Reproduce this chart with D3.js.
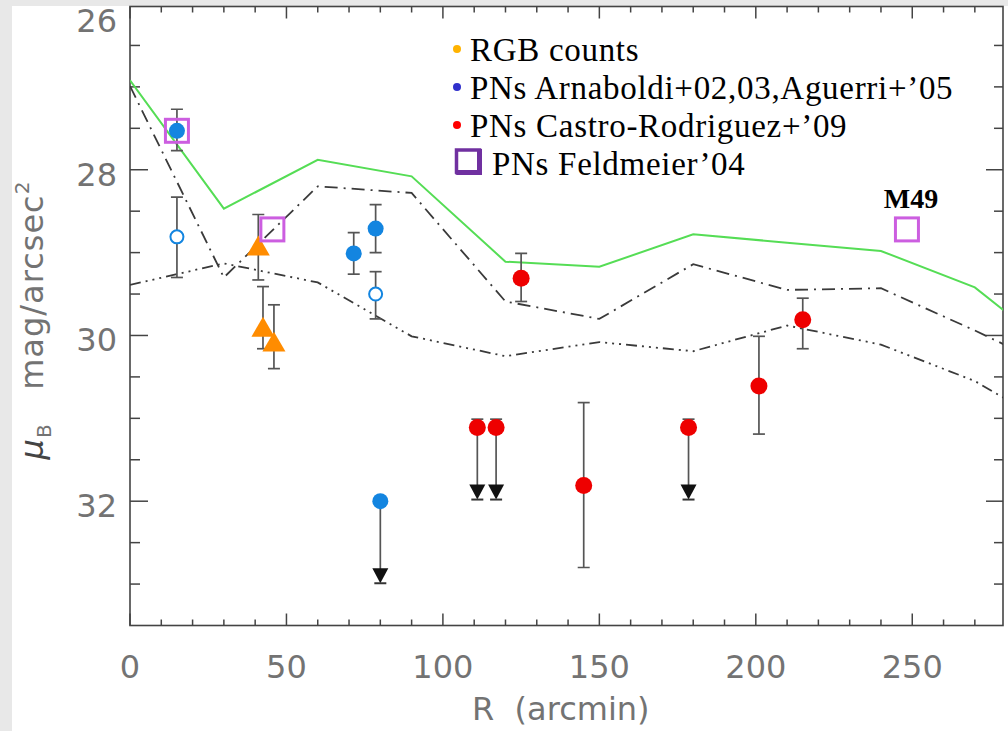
<!DOCTYPE html>
<meta charset="utf-8">
<script src="https://d3js.org/d3.v7.min.js"></script>
<style>
  body { margin: 0; background: #e8e8e8; }
  svg { display: block; }
</style>
<div id="my_dataviz"></div>
<script>

// model profiles (sampled every 30 arcmin)
var modelR     = [0, 30, 60, 90, 120, 150, 180, 210, 240, 270, 280];
var greenMu    = [26.92, 28.47, 27.88, 28.08, 29.11, 29.17, 28.78, 28.88, 28.98, 29.42, 29.72];
var dashDotMu  = [26.99, 29.30, 28.20, 28.28, 29.59, 29.80, 29.14, 29.45, 29.43, 29.94, 30.12];
var dashDot3Mu = [29.39, 29.13, 29.36, 30.01, 30.25, 30.08, 30.19, 29.88, 30.11, 30.55, 30.77];

// PNs Arnaboldi+02,03, Aguerri+'05 (filled)
var blueR  = [15, 71.5, 78.5];
var blueMu = [27.53, 29.01, 28.71];
var blueLo = [27.27, 28.76, 28.42];
var blueHi = [27.77, 29.26, 29.00];
// open symbols
var blueOpenR  = [15, 78.5];
var blueOpenMu = [28.81, 29.50];
var blueOpenLo = [28.33, 29.23];
var blueOpenHi = [29.30, 29.80];
// upper limit
var blueLimR   = [80];
var blueLimMu  = [32.0];
var blueLimEnd = [32.99];

// RGB counts
var rgbR  = [41, 42.5, 46];
var rgbMu = [28.93, 29.91, 30.09];
var rgbLo = [28.54, 29.41, 29.63];
var rgbHi = [29.33, 30.16, 30.40];

// PNs Castro-Rodriguez+'09
var redR  = [125, 145, 201, 215];
var redMu = [29.31, 31.81, 30.61, 29.81];
var redLo = [29.01, 30.81, 30.01, 29.55];
var redHi = [29.59, 32.80, 31.19, 30.16];
// upper limits
var redLimR   = [111, 117, 178.5];
var redLimMu  = [31.11, 31.11, 31.11];
var redLimTop = [31.01, 31.01, 31.01];
var redLimEnd = [31.98, 31.98, 31.98];

// PNs Feldmeier'04
var sqR  = [15, 45.5, 248.3];
var sqMu = [27.53, 28.72, 28.72];

var xMajor = [0, 50, 100, 150, 200, 250];
var yMajor = [26, 28, 30, 32];

var legendLabels = ["RGB counts", "PNs Arnaboldi+02,03,Aguerri+\u201905", "PNs Castro-Rodriguez+\u201909", "PNs Feldmeier\u201904"];
var legendColors = ["#ffb300", "#3030cc", "#ff0000", "#7030a0"];

var W = 1008, H = 731;

var svg = d3.select("#my_dataviz")
  .append("svg")
    .attr("width", W)
    .attr("height", H);

// white panel
svg.append("rect")
  .attr("x", 12).attr("y", 6)
  .attr("width", W - 12).attr("height", H - 6)
  .attr("fill", "white");

var x = d3.scaleLinear().domain([0, 279]).range([130, 1003]);
var y = d3.scaleLinear().domain([26.03, 33.5]).range([6.5, 625.5]);

var x0 = x.range()[0], x1 = x.range()[1], y0 = y.range()[0], y1 = y.range()[1];

svg.append("clipPath").attr("id", "clip")
  .append("rect")
    .attr("x", x0).attr("y", y0)
    .attr("width", x1 - x0).attr("height", y1 - y0);

var axisColor = "#444";

// ---- frame and ticks ----
var minorX = d3.range(0, 280, 10);
var minorY = d3.range(26.5, 33.5, 0.5);

var ticks = svg.append("g").attr("stroke", axisColor).attr("stroke-width", 1.5);

minorX.forEach(function(v){
  var big = v % 50 === 0;
  var len = big ? 12 : 6;
  ticks.append("line").attr("x1", x(v)).attr("x2", x(v)).attr("y1", y1).attr("y2", y1 - len);
  ticks.append("line").attr("x1", x(v)).attr("x2", x(v)).attr("y1", y0).attr("y2", y0 + len);
});
minorY.forEach(function(v){
  var big = Math.abs(v % 2) < 1e-9;
  ticks.append("line").attr("x1", x0).attr("x2", x0 + (big ? 18 : 10)).attr("y1", y(v)).attr("y2", y(v));
  ticks.append("line").attr("x1", x1).attr("x2", x1 - (big ? 17 : 9)).attr("y1", y(v)).attr("y2", y(v));
});

svg.append("rect")
  .attr("x", x0).attr("y", y0)
  .attr("width", x1 - x0).attr("height", y1 - y0)
  .attr("fill", "none")
  .attr("stroke", axisColor)
  .attr("stroke-width", 1.6);

// tick labels
var labFont = "'DejaVu Sans', sans-serif";
var labCol = "#737373";
svg.selectAll("xlab")
  .data(xMajor)
  .enter()
  .append("text")
    .attr("x", function(d){ return x(d) })
    .attr("y", 678)
    .attr("text-anchor", "middle")
    .style("font-family", labFont)
    .style("font-size", "32px")
    .attr("fill", labCol)
    .text(function(d){ return d });

svg.selectAll("ylab")
  .data(yMajor)
  .enter()
  .append("text")
    .attr("x", 117)
    .attr("y", function(d){ return Math.max(y(d) + 16, 32) })
    .attr("text-anchor", "end")
    .style("font-family", labFont)
    .style("font-size", "32px")
    .attr("fill", labCol)
    .text(function(d){ return d });

// axis titles
svg.append("text")
  .attr("x", 472)
  .attr("y", 720)
  .style("font-family", labFont)
  .style("font-size", "32px")
  .style("white-space", "pre")
  .attr("fill", labCol)
  .text("R  (arcmin)");

var yt = svg.append("text")
  .attr("transform", "translate(43,320) rotate(-90)")
  .attr("text-anchor", "middle")
  .style("font-family", labFont)
  .style("font-size", "32px")
  .style("letter-spacing", "1px")
  .style("white-space", "pre")
  .attr("fill", labCol);
yt.append("tspan").style("font-style", "italic").attr("fill", "#444").text("\u03bc");
yt.append("tspan").attr("dy", 8).style("font-size", "20px").text("B");
yt.append("tspan").attr("dy", -8).text("   mag/arcsec");
yt.append("tspan").attr("dy", -14).style("font-size", "20px").text("2");

// ---- model lines ----
var line = d3.line()
  .x(function(d){ return x(d[0]) })
  .y(function(d){ return y(d[1]) });

var plot = svg.append("g").attr("clip-path", "url(#clip)");

plot.append("path")
  .attr("d", line(d3.zip(modelR, dashDot3Mu)))
  .attr("fill", "none")
  .attr("stroke", "#3a3a3a")
  .attr("stroke-width", 1.8)
  .attr("stroke-dasharray", "11,5,2,5,2,5,2,5");

plot.append("path")
  .attr("d", line(d3.zip(modelR, dashDotMu)))
  .attr("fill", "none")
  .attr("stroke", "#3a3a3a")
  .attr("stroke-width", 1.8)
  .attr("stroke-dasharray", "13,6,2,6");

plot.append("path")
  .attr("d", line(d3.zip(modelR, greenMu)))
  .attr("fill", "none")
  .attr("stroke", "#55dd55")
  .attr("stroke-width", 2);

// ---- error bars ----
function errBars(R, lo, hi) {
  var g = plot.append("g").attr("stroke", "#555").attr("stroke-width", 1.7);
  R.forEach(function(r, i){
    g.append("line").attr("x1", x(r)).attr("x2", x(r)).attr("y1", y(lo[i])).attr("y2", y(hi[i]));
    g.append("line").attr("x1", x(r) - 6).attr("x2", x(r) + 6).attr("y1", y(lo[i])).attr("y2", y(lo[i]));
    g.append("line").attr("x1", x(r) - 6).attr("x2", x(r) + 6).attr("y1", y(hi[i])).attr("y2", y(hi[i]));
  });
}
function limits(R, top, end, cap) {
  var g = plot.append("g");
  R.forEach(function(r, i){
    g.append("line")
      .attr("x1", x(r)).attr("x2", x(r))
      .attr("y1", y(top[i])).attr("y2", y(end[i]) - 6)
      .attr("stroke", "#555").attr("stroke-width", 1.7);
    if (cap) {
      g.append("line").attr("x1", x(r) - 6).attr("x2", x(r) + 6)
        .attr("y1", y(top[i])).attr("y2", y(top[i]))
        .attr("stroke", "#555").attr("stroke-width", 1.7);
    }
    var tx = x(r), ty = y(end[i]);
    g.append("path")
      .attr("d", "M" + (tx - 8) + "," + (ty - 15) + "L" + (tx + 8) + "," + (ty - 15) + "L" + tx + "," + ty + "Z")
      .attr("fill", "#111");
    g.append("line").attr("x1", tx - 6).attr("x2", tx + 6).attr("y1", ty).attr("y2", ty)
      .attr("stroke", "#333").attr("stroke-width", 2);
  });
}

errBars(blueR, blueLo, blueHi);
errBars(blueOpenR, blueOpenLo, blueOpenHi);
errBars(rgbR, rgbLo, rgbHi);
errBars(redR, redLo, redHi);
limits(blueLimR, blueLimMu, blueLimEnd, false);
limits(redLimR, redLimTop, redLimEnd, true);

// ---- markers ----
var blueCol = "#1385e0", redCol = "#ee0000", orangeCol = "#ff8c00", sqCol = "#cc5ee0";

plot.selectAll("bluedots")
  .data(d3.zip(blueR.concat(blueLimR), blueMu.concat(blueLimMu)))
  .enter()
  .append("circle")
    .attr("cx", function(d){ return x(d[0]) })
    .attr("cy", function(d){ return y(d[1]) })
    .attr("r", 8)
    .style("fill", blueCol);

plot.selectAll("blueopen")
  .data(d3.zip(blueOpenR, blueOpenMu))
  .enter()
  .append("circle")
    .attr("cx", function(d){ return x(d[0]) })
    .attr("cy", function(d){ return y(d[1]) })
    .attr("r", 6.5)
    .style("fill", "white")
    .attr("stroke", blueCol)
    .attr("stroke-width", 2);

plot.selectAll("reddots")
  .data(d3.zip(redR.concat(redLimR), redMu.concat(redLimMu)))
  .enter()
  .append("circle")
    .attr("cx", function(d){ return x(d[0]) })
    .attr("cy", function(d){ return y(d[1]) })
    .attr("r", 8.5)
    .style("fill", redCol);

var tri = d3.symbol().type(d3.symbolTriangle).size(230);
plot.selectAll("rgb")
  .data(d3.zip(rgbR, rgbMu))
  .enter()
  .append("path")
    .attr("d", tri)
    .attr("transform", function(d){ return "translate(" + x(d[0]) + "," + (y(d[1]) + 2) + ")" })
    .style("fill", orangeCol);

plot.selectAll("squares")
  .data(d3.zip(sqR, sqMu))
  .enter()
  .append("rect")
    .attr("x", function(d){ return x(d[0]) - 11.5 })
    .attr("y", function(d){ return y(d[1]) - 11.5 })
    .attr("width", 23)
    .attr("height", 23)
    .attr("fill", "none")
    .attr("stroke", sqCol)
    .attr("stroke-width", 3);

// M49 label
svg.append("text")
  .attr("x", x(sqR[2]) + 4)
  .attr("y", y(sqMu[2]) - 21)
  .attr("text-anchor", "middle")
  .style("font-family", "'Liberation Serif', serif")
  .style("font-weight", "bold")
  .style("font-size", "28px")
  .text("M49");

// ---- legend ----
var leg = svg.append("g")
  .style("font-family", "'Liberation Serif', serif")
  .style("font-size", "33px")
  .style("letter-spacing", "0.7px");
legendLabels.forEach(function(t, i){
  var base = 61 + i * 38;
  if (i < 3) {
    leg.append("circle").attr("cx", 457).attr("cy", base - 12).attr("r", 4).style("fill", legendColors[i]);
    leg.append("text").attr("x", 470).attr("y", base).text(t);
  } else {
    leg.append("rect").attr("x", 456.5).attr("y", base - 25).attr("width", 23).attr("height", 22)
      .attr("fill", "none").attr("stroke", legendColors[i]).attr("stroke-width", 3.5);
    leg.append("rect").attr("x", 455).attr("y", base - 5).attr("width", 27).attr("height", 5)
      .attr("rx", 2).attr("fill", legendColors[i]);
    leg.append("rect").attr("x", 477).attr("y", base - 26).attr("width", 5).attr("height", 26)
      .attr("fill", legendColors[i]);
    leg.append("text").attr("x", 492).attr("y", base).text(t);
  }
});

</script>
